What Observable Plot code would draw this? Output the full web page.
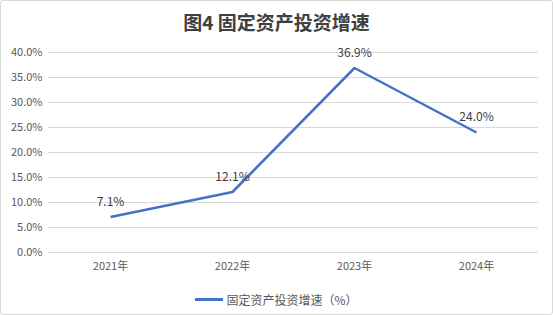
<!DOCTYPE html>
<html><head><meta charset="utf-8">
<script src="https://cdn.jsdelivr.net/npm/d3@7"></script>
<script src="https://cdn.jsdelivr.net/npm/@observablehq/plot@0.6"></script>
<style>
body{margin:0;background:#fff;font-family:"Noto Sans CJK SC","Noto Sans",sans-serif;}
#wrap{position:relative;width:553px;height:315px;box-sizing:border-box;border:1px solid #d9d9d9;border-radius:3px;overflow:hidden;}
#title{height:41px;line-height:42px;text-align:center;font-size:19px;font-weight:bold;color:#404040;}
#legend{height:33px;display:flex;justify-content:center;align-items:center;font-size:12px;color:#595959;padding-top:2px;box-sizing:border-box;}
#legend .sw{width:28px;height:3px;background:#4472C4;margin-right:3px;}
svg{display:block;}
</style></head>
<body>
<div id="wrap">
<div id="title">图4 固定资产投资增速</div>
<div id="chart"></div>
<div id="legend"><span class="sw"></span><span>固定资产投资增速（%）</span></div>
</div>
<script>
const years = ["2021年","2022年","2023年","2024年"];
const growth = [7.1, 12.1, 36.9, 24.0];
const yTicks = [0,5,10,15,20,25,30,35,40];

const data = years.map((y,i)=>({year:y, value:growth[i]}));

const chart = Plot.plot({
  width: 551,
  height: 240,
  marginTop: 10,
  marginBottom: 30,
  marginLeft: 47,
  marginRight: 14,
  style: {fontFamily: '"Noto Sans CJK SC","Noto Sans",sans-serif', fontSize: "11px", color: "#595959", background: "transparent"},
  x: {type: "point", domain: years, padding: 0.5, label: null, tickSize: 0, tickPadding: 10},
  y: {domain: [0, 40], ticks: yTicks, label: null, tickSize: 0, tickPadding: 6, tickFormat: d => d.toFixed(1) + "%"},
  marks: [
    Plot.gridY(yTicks, {stroke: "#d9d9d9", strokeOpacity: 1, strokeWidth: 1}),
    Plot.line(data, {x: "year", y: "value", stroke: "#4472C4", strokeWidth: 2.5, strokeLinejoin: "miter", strokeLinecap: "butt"}),
    Plot.text(data, {x: "year", y: "value", text: d => d.value.toFixed(1) + "%", dy: -15, fill: "#404040", fontSize: 12})
  ]
});
document.getElementById("chart").appendChild(chart);
</script>
</body></html>
